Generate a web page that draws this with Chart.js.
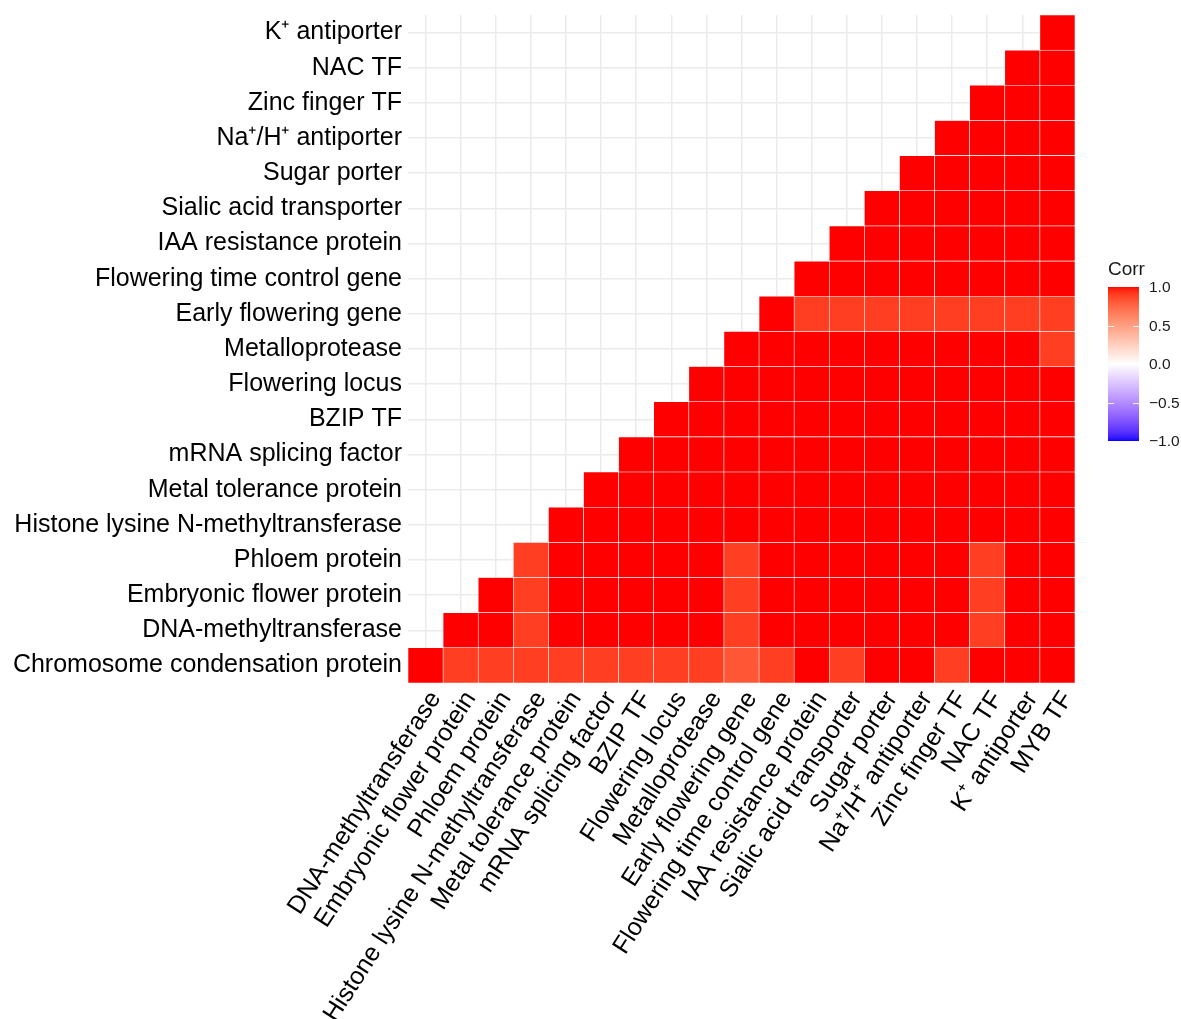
<!DOCTYPE html>
<html>
<head>
<meta charset="utf-8">
<title>Correlation heatmap</title>
<script src="https://cdn.jsdelivr.net/npm/chart.js@4.4.1/dist/chart.umd.min.js"></script>
<style>
  html, body { margin: 0; padding: 0; background: #ffffff; }
  #wrap { width: 1181px; height: 1019px; }
</style>
</head>
<body>
<div id="wrap"><canvas id="c" width="1181" height="1019"></canvas></div>
<script>
// Column (x) categories, left to right
const xLabels = [
  'DNA-methyltransferase', 'Embryonic flower protein', 'Phloem protein',
  'Histone lysine N-methyltransferase', 'Metal tolerance protein', 'mRNA splicing factor',
  'BZIP TF', 'Flowering locus', 'Metalloprotease', 'Early flowering gene',
  'Flowering time control gene', 'IAA resistance protein', 'Sialic acid transporter',
  'Sugar porter', 'Na\u207A/H\u207A antiporter', 'Zinc finger TF', 'NAC TF',
  'K\u207A antiporter', 'MYB TF'
];

// Row (y) categories, bottom to top
const yLabels = [
  'Chromosome condensation protein', 'DNA-methyltransferase', 'Embryonic flower protein',
  'Phloem protein', 'Histone lysine N-methyltransferase', 'Metal tolerance protein',
  'mRNA splicing factor', 'BZIP TF', 'Flowering locus', 'Metalloprotease',
  'Early flowering gene', 'Flowering time control gene', 'IAA resistance protein',
  'Sialic acid transporter', 'Sugar porter', 'Na\u207A/H\u207A antiporter',
  'Zinc finger TF', 'NAC TF', 'K\u207A antiporter'
];

// Correlations for each row; row r starts at column r and runs to the last column
const corrRows = [
  [1.00, 0.90, 0.90, 0.90, 0.90, 0.90, 0.90, 0.90, 0.90, 0.82, 0.90, 1.00, 0.90, 1.00, 1.00, 0.90, 1.00, 1.00, 1.00],
  [1.00, 1.00, 0.90, 1.00, 1.00, 1.00, 1.00, 1.00, 0.90, 1.00, 1.00, 1.00, 1.00, 1.00, 1.00, 0.90, 1.00, 1.00],
  [1.00, 0.90, 1.00, 1.00, 1.00, 1.00, 1.00, 0.90, 1.00, 1.00, 1.00, 1.00, 1.00, 1.00, 0.90, 1.00, 1.00],
  [0.90, 1.00, 1.00, 1.00, 1.00, 1.00, 0.90, 1.00, 1.00, 1.00, 1.00, 1.00, 1.00, 0.90, 1.00, 1.00],
  [1.00, 1.00, 1.00, 1.00, 1.00, 1.00, 1.00, 1.00, 1.00, 1.00, 1.00, 1.00, 1.00, 1.00, 1.00],
  [1.00, 1.00, 1.00, 1.00, 1.00, 1.00, 1.00, 1.00, 1.00, 1.00, 1.00, 1.00, 1.00, 1.00],
  [1.00, 1.00, 1.00, 1.00, 1.00, 1.00, 1.00, 1.00, 1.00, 1.00, 1.00, 1.00, 1.00],
  [1.00, 1.00, 1.00, 1.00, 1.00, 1.00, 1.00, 1.00, 1.00, 1.00, 1.00, 1.00],
  [1.00, 1.00, 1.00, 1.00, 1.00, 1.00, 1.00, 1.00, 1.00, 1.00, 1.00],
  [1.00, 1.00, 1.00, 1.00, 1.00, 1.00, 1.00, 1.00, 1.00, 0.90],
  [1.00, 0.90, 0.90, 0.90, 0.90, 0.90, 0.90, 0.90, 0.90],
  [1.00, 1.00, 1.00, 1.00, 1.00, 1.00, 1.00, 1.00],
  [1.00, 1.00, 1.00, 1.00, 1.00, 1.00, 1.00],
  [1.00, 1.00, 1.00, 1.00, 1.00, 1.00],
  [1.00, 1.00, 1.00, 1.00, 1.00],
  [1.00, 1.00, 1.00, 1.00],
  [1.00, 1.00, 1.00],
  [1.00, 1.00],
  [1.00]
];

// Colour bar ticks
const legendTicks = [1.0, 0.5, 0.0, -0.5, -1.0];
const legendTickLabels = ['1.0', '0.5', '0.0', '\u22120.5', '\u22121.0'];

const FONT = "'Liberation Sans', Arial, Helvetica, sans-serif";

// ---- diverging blue / white / red scale, interpolated in CIE Lab ----
function toLinear(c) { c /= 255; return c <= 0.04045 ? c / 12.92 : Math.pow((c + 0.055) / 1.055, 2.4); }
function toSrgb(v) {
  v = v <= 0.0031308 ? 12.92 * v : 1.055 * Math.pow(v, 1 / 2.4) - 0.055;
  return Math.round(Math.min(1, Math.max(0, v)) * 255);
}
function rgbToLab(rgb) {
  const R = toLinear(rgb[0]), G = toLinear(rgb[1]), B = toLinear(rgb[2]);
  const X = (0.4124564 * R + 0.3575761 * G + 0.1804375 * B) / 0.95047;
  const Y = (0.2126729 * R + 0.7151522 * G + 0.0721750 * B);
  const Z = (0.0193339 * R + 0.1191920 * G + 0.9503041 * B) / 1.08883;
  const f = t => t > 0.008856 ? Math.cbrt(t) : 7.787 * t + 16 / 116;
  const fx = f(X), fy = f(Y), fz = f(Z);
  return [116 * fy - 16, 500 * (fx - fy), 200 * (fy - fz)];
}
function labToRgb(lab) {
  const fy = (lab[0] + 16) / 116, fx = fy + lab[1] / 500, fz = fy - lab[2] / 200;
  const inv = t => t > 0.206893 ? t * t * t : (t - 16 / 116) / 7.787;
  const X = inv(fx) * 0.95047, Y = inv(fy), Z = inv(fz) * 1.08883;
  const R = 3.2404542 * X - 1.5371385 * Y - 0.4985314 * Z;
  const G = -0.9692660 * X + 1.8760108 * Y + 0.0415560 * Z;
  const B = 0.0556434 * X - 0.2040259 * Y + 1.0572252 * Z;
  return [toSrgb(R), toSrgb(G), toSrgb(B)];
}
const LAB_LOW = rgbToLab([0, 0, 255]);
const LAB_MID = rgbToLab([255, 255, 255]);
const LAB_HIGH = rgbToLab([255, 0, 0]);
function corrColor(v) {
  const end = v >= 0 ? LAB_HIGH : LAB_LOW;
  const t = Math.min(1, Math.abs(v));
  const lab = LAB_MID.map((m, i) => m + (end[i] - m) * t);
  const c = labToRgb(lab);
  return 'rgb(' + c[0] + ',' + c[1] + ',' + c[2] + ')';
}

// ---- one floating-bar dataset per row of the triangle ----
const datasets = yLabels.map((_, r) => ({
  data: xLabels.map((_, c) => (c >= r ? [r, r + 1] : null)),
  backgroundColor: xLabels.map((_, c) => (c >= r ? corrColor(corrRows[r][c - r]) : 'rgba(0,0,0,0)')),
  borderColor: 'rgba(255,255,255,0.85)',
  borderWidth: 0.6,
  borderSkipped: false,
  grouped: false,
  barPercentage: 1,
  categoryPercentage: 1
}));

// ---- colour bar legend ----
const colorbarPlugin = {
  id: 'corrColorbar',
  afterDraw(chart) {
    const ctx = chart.ctx;
    const x0 = 1108, w = 31, top = 287, bottom = 441;
    const pos = v => top + (1 - v) / 2 * (bottom - top);
    ctx.save();
    const grad = ctx.createLinearGradient(0, top, 0, bottom);
    for (let k = 0; k <= 100; k++) {
      grad.addColorStop(k / 100, corrColor(1 - 2 * k / 100));
    }
    ctx.fillStyle = grad;
    ctx.fillRect(x0, top, w, bottom - top);

    ctx.strokeStyle = 'rgba(255,255,255,0.9)';
    ctx.lineWidth = 1;
    legendTicks.filter(v => Math.abs(v) < 1).forEach(v => {
      const y = Math.round(pos(v)) + 0.5;
      ctx.beginPath();
      ctx.moveTo(x0, y); ctx.lineTo(x0 + 6, y);
      ctx.moveTo(x0 + w - 6, y); ctx.lineTo(x0 + w, y);
      ctx.stroke();
    });

    ctx.fillStyle = '#1a1a1a';
    ctx.font = '19px ' + FONT;
    ctx.textAlign = 'left';
    ctx.textBaseline = 'alphabetic';
    ctx.fillText('Corr', x0, 275);

    ctx.font = '15.5px ' + FONT;
    ctx.textBaseline = 'middle';
    legendTicks.forEach((v, i) => {
      ctx.fillText(legendTickLabels[i], x0 + 41, pos(v) + 1);
    });
    ctx.restore();
  }
};

const gridStyle = { color: '#EBEBEB', lineWidth: 1.5, drawTicks: false };

new Chart(document.getElementById('c'), {
  type: 'bar',
  data: { labels: xLabels, datasets },
  options: {
    responsive: false,
    animation: false,
    layout: { padding: { left: 0, top: 15, right: 106, bottom: 0 } },
    plugins: { legend: { display: false }, tooltip: { enabled: false } },
    scales: {
      x: {
        type: 'category',
        offset: true,
        grid: Object.assign({ offset: false }, gridStyle),
        border: { display: false },
        ticks: {
          autoSkip: false, minRotation: 57, maxRotation: 57, padding: 3, labelOffset: 10,
          color: '#000000', font: { family: FONT, size: 25 }
        },
        afterFit(scale) { scale.height = 336; }
      },
      y: {
        type: 'linear',
        min: 0,
        max: 19,
        grid: gridStyle,
        border: { display: false },
        afterBuildTicks(scale) { scale.ticks = yLabels.map((_, i) => ({ value: i + 0.5 })); },
        ticks: {
          autoSkip: false, padding: 6, color: '#000000',
          font: { family: FONT, size: 25 },
          callback: (value, index) => yLabels[index]
        },
        afterFit(scale) {
          scale.width = 408;
          scale.paddingTop = 0;
          scale.paddingBottom = 0;
        }
      }
    }
  },
  plugins: [colorbarPlugin]
});
</script>
</body>
</html>
